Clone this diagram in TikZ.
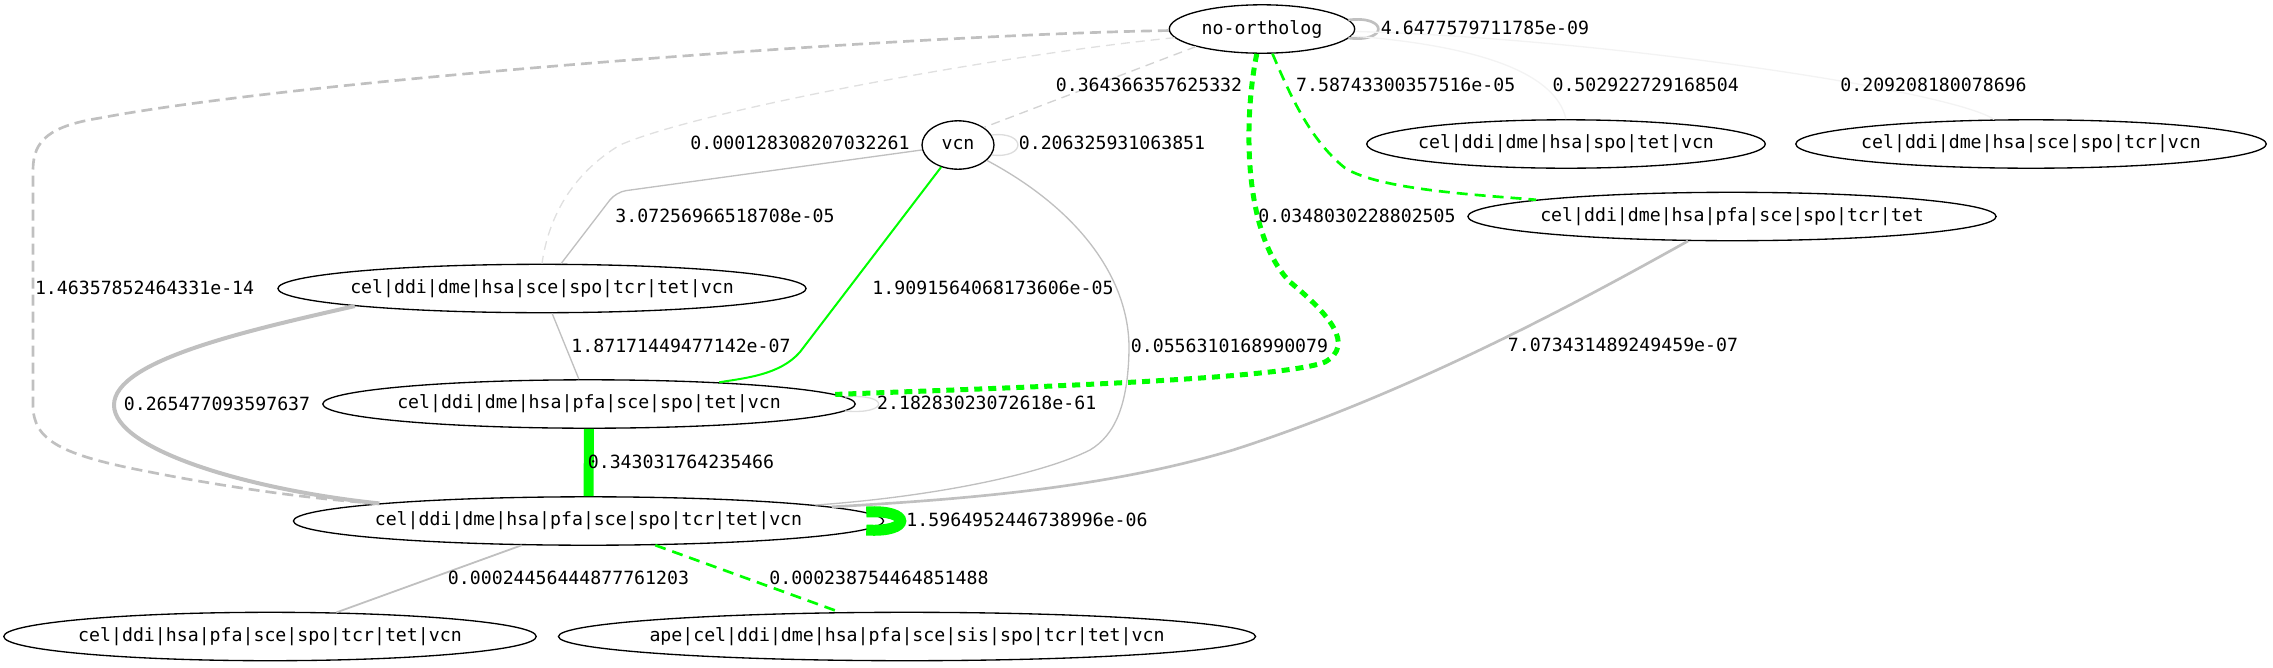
\documentclass[tikz,border=0pt]{standalone}
\usepackage{fontspec}
\setmonofont{DejaVu Sans Mono}
\usetikzlibrary{shapes.geometric}

\definecolor{edgegray}{HTML}{C0C0C0}
\definecolor{faintgray}{HTML}{D3D3D3}
\definecolor{lightgray2}{HTML}{E0E0E0}
\definecolor{loopgray}{HTML}{DDDDDD}
\definecolor{palegray}{HTML}{F3F3F3}
\definecolor{hitgreen}{HTML}{00FF00}

\begin{document}
\begin{tikzpicture}[x=1pt, y=-1pt,
  font=\ttfamily\fontsize{18.2}{22}\selectfont,
  taxon/.style={ellipse, draw, line width=1.33pt, minimum height=48.4pt, inner xsep=-5pt, inner ysep=0pt},
  wlabel/.style={inner sep=0pt},
  wthin/.style={draw=edgegray, line width=1.33pt},
  wmid/.style={draw=edgegray, line width=2.67pt},
  wthick/.style={draw=edgegray, line width=4pt},
  wfaint/.style={draw=faintgray, line width=1.33pt, dash pattern=on 9pt off 6pt},
  wloop/.style={draw=loopgray, line width=1.33pt},
  wpale/.style={draw=palegray, line width=1.33pt},
  gsolid/.style={draw=hitgreen, line width=2pt},
  gdashed/.style={draw=hitgreen, line width=2.67pt, dash pattern=on 11pt off 7pt},
  gdotted/.style={draw=hitgreen, line width=5pt, dash pattern=on 8pt off 6pt}]

\useasboundingbox (0,0) rectangle (2273,667);

% Taxon sets
\node[taxon, minimum width=185.4pt] (northo) at (1262,29) {no-ortholog};
\node[taxon, minimum width=72pt] (vcn) at (958,145) {vcn};
\node[taxon, inner xsep=-7pt] (set7) at (1566,144) {cel|ddi|dme|hsa|spo|tet|vcn};
\node[taxon, inner xsep=-3.5pt] (set8) at (2031,144) {cel|ddi|dme|hsa|sce|spo|tcr|vcn};
\node[taxon] (set9a) at (1732,216.5) {cel|ddi|dme|hsa|pfa|sce|spo|tcr|tet};
\node[taxon] (set9b) at (542,288.5) {cel|ddi|dme|hsa|sce|spo|tcr|tet|vcn};
\node[taxon, inner xsep=-3.5pt] (set9c) at (589,404) {cel|ddi|dme|hsa|pfa|sce|spo|tet|vcn};
\node[taxon] (set10) at (588.5,521) {cel|ddi|dme|hsa|pfa|sce|spo|tcr|tet|vcn};
\node[taxon, inner xsep=-3.5pt] (set9d) at (270,636.5) {cel|ddi|hsa|pfa|sce|spo|tcr|tet|vcn};
\node[taxon, inner xsep=-11pt] (set12) at (907,636.5) {ape|cel|ddi|dme|hsa|pfa|sce|sis|spo|tcr|tet|vcn};

% Self loops
\draw[wmid] ([shift={(-7,-9)}]northo.east) .. controls +(40,-5) and +(40,5) .. ([shift={(-7,9)}]northo.east);
\draw[wloop] ([shift={(-3,-10)}]vcn.east) .. controls +(35,-4) and +(35,4) .. ([shift={(-3,10)}]vcn.east);
\draw[wloop] ([shift={(-11,-7)}]set9c.east) .. controls +(45,-4) and +(45,4) .. ([shift={(-11,7)}]set9c.east);
\draw[hitgreen, line width=11pt] ([shift={(-18,-9)}]set10.east) .. controls +(46,-3) and +(46,3) .. ([shift={(-18,9)}]set10.east);

% Edges from no-ortholog
\draw[wfaint] (northo.south west) -- (vcn.north east);
\draw[wpale] (northo) .. controls (1470,45) and (1555,70) .. (set7.north);
\draw[wpale] (northo) .. controls (1600,38) and (1950,90) .. (set8);
\draw[gdashed] (northo) .. controls (1290,95) and (1310,140) .. (1345,168)
  .. controls (1380,190) and (1480,195) .. (set9a);
\draw[gdotted] (northo) .. controls (1245,110) and (1240,230) .. (1290,282)
  .. controls (1330,315) and (1355,345) .. (1325,362)
  .. controls (1280,380) and (1000,388) .. (set9c);
\draw[wfaint, draw=lightgray2] (northo) .. controls (1000,55) and (700,110) .. (620,145)
  .. controls (570,175) and (548,220) .. (set9b.north);
\draw[wmid, dash pattern=on 11pt off 6pt] (northo) .. controls (900,35) and (300,80) .. (100,118)
  .. controls (50,126) and (33,140) .. (33,170) -- (33,405)
  .. controls (33,440) and (60,455) .. (150,472)
  .. controls (230,488) and (320,500) .. (set10.north west);

% Edges from vcn
\draw[wthin, rounded corners=10pt] (vcn) -- (616,192) -- (set9b);
\draw[gsolid] (vcn) -- (800,352) .. controls (780,375) and (745,378) .. (set9c);
\draw[wthin] (vcn) .. controls (1080,210) and (1130,280) .. (1129,350)
  .. controls (1128,405) and (1115,435) .. (1090,450)
  .. controls (1040,475) and (930,497) .. (set10);

% Remaining edges
\draw[wmid] (set9a) .. controls (1600,290) and (1420,390) .. (1233,450)
  .. controls (1100,490) and (950,500) .. (set10);
\draw[wthin] (set9b) -- (set9c);
\draw[wthick] (set9b.south west) .. controls (250,330) and (114,360) .. (114,405)
  .. controls (114,450) and (250,490) .. (set10.north west);
\draw[hitgreen, line width=10pt] (set9c) -- (set10);
\draw[wthin, line width=1.8pt] (set10) -- (set9d);
\draw[gdashed] (set10) -- (set12);

% Edge weights
\node[wlabel] (w1) at (1485,28.3) {4.6477579711785e-09};
\node[wlabel] (w2) at (1149,85) {0.364366357625332};
\node[wlabel] (w3) at (1405.7,85) {7.58743300357516e-05};
\node[wlabel] (w4) at (1645.7,85) {0.502922729168504};
\node[wlabel] (w5) at (1933.5,85) {0.209208180078696};
\node[wlabel] (w6) at (800,143.3) {0.000128308207032261};
\node[wlabel] (w7) at (1112,143.3) {0.206325931063851};
\node[wlabel] (w8) at (725,215.7) {3.07256966518708e-05};
\node[wlabel] (w9) at (1357,215.7) {0.0348030228802505};
\node[wlabel] (w10) at (144.6,288.3) {1.46357852464331e-14};
\node[wlabel] (w11) at (993,287.7) {1.9091564068173606e-05};
\node[wlabel] (w12) at (681,345.7) {1.87171449477142e-07};
\node[wlabel] (w13) at (1229.5,345.7) {0.0556310168990079};
\node[wlabel] (w14) at (1623,345) {7.073431489249459e-07};
\node[wlabel] (w15) at (217,404) {0.265477093597637};
\node[wlabel] (w16) at (986.7,403.3) {2.18283023072618e-61};
\node[wlabel] (w17) at (681,461.7) {0.343031764235466};
\node[wlabel] (w18) at (1027,520) {1.5964952446738996e-06};
\node[wlabel] (w19) at (568.5,577.7) {0.00024456444877761203};
\node[wlabel] (w20) at (879,577.7) {0.000238754464851488};

\end{tikzpicture}
\end{document}
